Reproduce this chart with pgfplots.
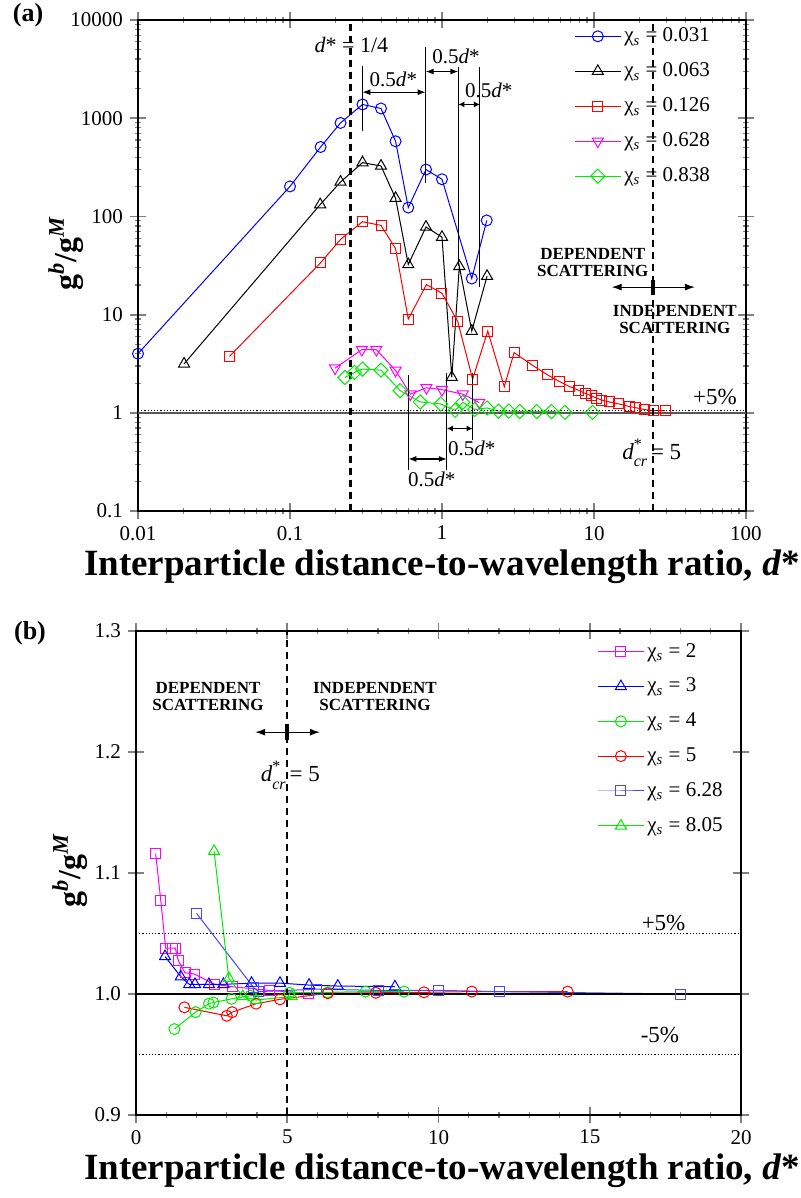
\documentclass[border=0pt]{standalone}
\usepackage{fontspec}
\setmainfont{Liberation Serif}
\usepackage{pgfplots}
\pgfplotsset{compat=1.18}
\usetikzlibrary{arrows.meta}
\definecolor{cblue}{RGB}{0,0,255}
\definecolor{cred}{RGB}{255,0,0}
\definecolor{cmag}{RGB}{255,0,255}
\definecolor{cgreen}{RGB}{0,235,0}
\definecolor{clblue}{RGB}{70,70,255}
\pgfplotsset{
  common/.style={
    scale only axis, clip=false,
    /pgf/number format/assume math mode=true,
    /pgf/number format/1000 sep={},
    tick label style={font=\fontsize{10.5}{12}\selectfont},
    tick align=center, major tick length=8pt, minor tick length=3pt,
    axis line style={line width=0.9pt},
    major tick style={line width=0.9pt},
    minor tick style={line width=0.6pt},
    legend cell align=left,
    legend image code/.code={\draw[mark repeat=2,mark phase=2,#1] plot coordinates {(0pt,0pt) (11.5pt,0pt) (23pt,0pt)};},
    legend style={draw=none, fill=none, inner sep=0pt, row sep=6.0pt,
      font=\fontsize{10.5}{12}\selectfont, nodes={inner sep=1.5pt}},
  },
  ser/.style={line width=0.5pt, mark options={solid, line width=0.5pt}},
}
\newcommand{\hd}{0.5\textit{d}*}
\newcommand{\chis}{χ\textsubscript{\textit{s}}}
\newcommand{\dcr}{\textit{d}\rlap{\raisebox{0.9ex}{\fontsize{8}{8}\selectfont *}}\raisebox{-0.75ex}{\fontsize{8}{8}\selectfont\textit{cr}}\,= 5}
\begin{document}
\begin{tikzpicture}
\path[use as bounding box] (0,0) rectangle (400.5pt,-599pt);
% ---------------- (a) ----------------
\begin{axis}[common,
  at={(69pt,-255.5pt)}, anchor=south west, width=304pt, height=245.5pt,
  xmode=log, ymode=log, xmin=0.01, xmax=100, ymin=0.1, ymax=10000,
  log ticks with fixed point,
  legend style={at={(rel axis cs:0.717,0.991)}, anchor=north west},
]
\addplot[ser, cblue, mark=o, mark size=2.75pt] coordinates {
(0.01,4) (0.1,202) (0.159,509) (0.215,895) (0.3,1380) (0.397,1256) (0.495,582) (0.6,123) (0.785,300) (1.0,239) (1.57,23.3) (1.97,91)};
\addlegendentry{\chis{} = 0.031}
\addplot[ser, black, mark=triangle, mark size=3.2pt] coordinates {
(0.0201,3.15) (0.158,132) (0.215,224) (0.3,353) (0.397,326) (0.495,153) (0.6,32.4) (0.785,78) (1.0,61.5) (1.16,2.3) (1.3,31) (1.57,6.8) (1.98,24.6)};
\addlegendentry{\chis{} = 0.063}
\addplot[ser, cred, mark=square, mark size=2.5pt] coordinates {
(0.04,3.76) (0.159,33.7) (0.215,58.3) (0.3,88.3) (0.397,81) (0.495,47) (0.6,9.0) (0.79,20.2) (1.0,16.5) (1.27,8.5) (1.59,2.2) (2.0,6.8) (2.57,1.84) (2.98,4.1) (3.95,3.04) (4.93,2.44) (5.9,2.09) (6.9,1.85) (7.9,1.70) (8.8,1.57) (9.6,1.49) (10.4,1.41) (11.2,1.35) (12.6,1.29) (14.6,1.23) (17,1.16) (18.7,1.13) (21.4,1.08) (24.5,1.05) (29.4,1.05)};
\addlegendentry{\chis{} = 0.126}
\addplot[ser, cmag, mark=triangle, mark size=3.2pt, mark options={rotate=180}] coordinates {
(0.198,2.85) (0.297,4.4) (0.37,4.4) (0.495,2.7) (0.62,1.55) (0.79,1.8) (1.0,1.72) (1.37,1.55) (1.76,1.27)};
\addlegendentry{\chis{} = 0.628}
\addplot[ser, cgreen, mark=square, mark size=2.5pt, mark options={rotate=45}] coordinates {
(0.23,2.29) (0.266,2.58) (0.3,2.79) (0.397,2.72) (0.53,1.68) (0.72,1.29) (0.98,1.23) (1.22,1.06) (1.37,1.28) (1.64,1.08) (1.98,1.12) (2.35,1.04) (2.75,1.04) (3.25,1.03) (4.2,1.03) (5.25,1.03) (6.44,1.01) (9.78,1.01)};
\addlegendentry{\chis{} = 0.838}
% reference lines
\draw[gray!70!black, line width=1pt] (axis cs:0.01,1) -- (axis cs:100,1);
\draw[densely dotted, line width=0.6pt] (axis cs:0.01,1.055) -- (axis cs:100,1.055);
\draw[dashed, line width=1.1pt, dash pattern=on 3.5pt off 2.5pt] (rel axis cs:0.3495,0) -- (rel axis cs:0.3495,1);
\draw[dashed, line width=1.1pt, dash pattern=on 3.5pt off 2.5pt] (rel axis cs:0.847,0) -- (rel axis cs:0.847,1);
% annotations
\node[font=\fontsize{11}{12}\selectfont] at (rel axis cs:0.351,0.949) {\textit{d}* = 1/4};
\draw[line width=0.5pt] (rel axis cs:0.369,0.907) -- (rel axis cs:0.369,0.773);
\draw[line width=0.5pt] (rel axis cs:0.473,0.944) -- (rel axis cs:0.473,0.668);
\draw[line width=0.5pt] (rel axis cs:0.527,0.905) -- (rel axis cs:0.527,0.499);
\draw[line width=0.5pt] (rel axis cs:0.5625,0.905) -- (rel axis cs:0.5625,0.456);
\draw[{Latex[length=4pt,width=3pt]}-{Latex[length=4pt,width=3pt]}, line width=0.6pt] (rel axis cs:0.369,0.853) -- (rel axis cs:0.473,0.853);
\draw[{Latex[length=4pt,width=3pt]}-{Latex[length=4pt,width=3pt]}, line width=0.6pt] (rel axis cs:0.473,0.895) -- (rel axis cs:0.527,0.895);
\draw[{Latex[length=3pt,width=3pt]}-{Latex[length=3pt,width=3pt]}, line width=0.6pt] (rel axis cs:0.527,0.828) -- (rel axis cs:0.5625,0.828);
\node[font=\fontsize{10.5}{12}\selectfont] at (rel axis cs:0.42,0.88) {\hd};
\node[font=\fontsize{10.5}{12}\selectfont] at (rel axis cs:0.523,0.925) {\hd};
\node[font=\fontsize{10.5}{12}\selectfont] at (rel axis cs:0.577,0.857) {\hd};
\draw[line width=0.5pt] (rel axis cs:0.4446,0.277) -- (rel axis cs:0.4446,0.0835);
\draw[line width=0.5pt] (rel axis cs:0.508,0.281) -- (rel axis cs:0.508,0.0835);
\draw[line width=0.5pt] (rel axis cs:0.5505,0.281) -- (rel axis cs:0.5505,0.1446);
\draw[{Latex[length=4pt,width=3pt]}-{Latex[length=4pt,width=3pt]}, line width=0.6pt] (rel axis cs:0.4446,0.106) -- (rel axis cs:0.508,0.106);
\draw[{Latex[length=3pt,width=3pt]}-{Latex[length=3pt,width=3pt]}, line width=0.6pt] (rel axis cs:0.508,0.168) -- (rel axis cs:0.5505,0.168);
\node[font=\fontsize{10.5}{12}\selectfont] at (rel axis cs:0.483,0.065) {\hd};
\node[font=\fontsize{10.5}{12}\selectfont] at (rel axis cs:0.549,0.128) {\hd};
\node[font=\fontsize{8.5}{8.5}\selectfont\bfseries, align=center, inner sep=0pt] at (rel axis cs:0.748,0.507) {DEPENDENT\\SCATTERING};
\node[font=\fontsize{8.5}{8.5}\selectfont\bfseries, align=center, inner sep=0pt] at (rel axis cs:0.883,0.391) {INDEPENDENT\\SCATTERING};
\draw[{Latex[length=5pt,width=3.5pt]}-{Latex[length=5pt,width=3.5pt]}, line width=0.6pt] (rel axis cs:0.779,0.456) -- (rel axis cs:0.916,0.456);
\draw[line width=2pt] (rel axis cs:0.847,0.47) -- (rel axis cs:0.847,0.44);
\node[font=\fontsize{11.5}{12}\selectfont] at (rel axis cs:0.949,0.233) {+5\%};
\node[font=\fontsize{11.5}{12}\selectfont] at (rel axis cs:0.845,0.118) {\dcr};
\end{axis}
% ---------------- (b) ----------------
\begin{axis}[common,
  at={(68pt,-557.5pt)}, anchor=south west, width=302.5pt, height=242pt,
  xmin=0, xmax=20, ymin=0.9, ymax=1.3,
  xtick={0,5,10,15,20}, minor x tick num=4,
  ytick={0.9,1.0,1.1,1.2,1.3},
  yticklabel style={/pgf/number format/.cd, fixed, fixed zerofill, precision=1},
  legend style={at={(rel axis cs:0.762,0.982)}, anchor=north west},
]
\addplot[ser, cmag, mark=square, mark size=2.5pt] coordinates {
(0.65,1.116) (0.82,1.077) (0.98,1.038) (1.2,1.038) (1.3,1.038) (1.4,1.0275) (1.62,1.0176) (1.93,1.0165) (2.6,1.008) (3.2,1.006) (4.4,1.003) (5.7,1.0006)};
\addlegendentry{\chis{} = 2}
\addplot[ser, cblue, mark=triangle, mark size=3.2pt] coordinates {
(0.96,1.031) (1.48,1.0143) (1.76,1.008) (1.95,1.008) (2.41,1.008) (2.89,1.008) (3.82,1.009) (4.76,1.009) (5.72,1.0074) (6.67,1.0066) (8.56,1.006)};
\addlegendentry{\chis{} = 3}
\addplot[ser, cgreen, mark=o, mark size=2.75pt] coordinates {
(1.27,0.971) (1.97,0.985) (2.41,0.992) (2.56,0.993) (3.16,0.996) (3.79,0.9986) (5.07,1.001) (6.34,1.0014) (7.59,1.002) (8.86,1.002)};
\addlegendentry{\chis{} = 4}
\addplot[ser, cred, mark=o, mark size=2.75pt] coordinates {
(1.6,0.989) (3.0,0.982) (3.18,0.985) (3.97,0.992) (4.76,0.9956) (6.34,1.0006) (7.93,1.001) (9.52,1.0014) (11.1,1.002) (14.27,1.002)};
\addlegendentry{\chis{} = 5}
\addplot[ser, clblue, mark=square, mark size=2.5pt] coordinates {
(2.0,1.0667) (3.9,1.005) (4.05,1.002) (5.97,1.004) (8.0,1.003) (10.0,1.003) (12.0,1.002) (18.0,1.0)};
\addlegendentry{\chis{} = 6.28}
\addplot[ser, cgreen, mark=triangle, mark size=3.2pt] coordinates {
(2.58,1.118) (3.07,1.013) (3.53,0.998) (3.97,0.995) (5.15,0.998)};
\addlegendentry{\chis{} = 8.05}
\draw[line width=0.6pt] (axis cs:0,1.0) -- (axis cs:20,1.0);
\draw[densely dotted, line width=0.6pt] (axis cs:0,1.05) -- (axis cs:20,1.05);
\draw[densely dotted, line width=0.6pt] (axis cs:0,0.95) -- (axis cs:20,0.95);
\draw[dashed, line width=1.1pt, dash pattern=on 3.5pt off 2.5pt] (axis cs:5,0.9) -- (axis cs:5,1.3);
\node[font=\fontsize{8.5}{8.5}\selectfont\bfseries, align=center, inner sep=0pt] at (rel axis cs:0.119,0.864) {DEPENDENT\\SCATTERING};
\node[font=\fontsize{8.5}{8.5}\selectfont\bfseries, align=center, inner sep=0pt] at (rel axis cs:0.395,0.864) {INDEPENDENT\\SCATTERING};
\draw[{Latex[length=5pt,width=3.5pt]}-{Latex[length=5pt,width=3.5pt]}, line width=0.6pt] (rel axis cs:0.197,0.791) -- (rel axis cs:0.304,0.791);
\draw[line width=2pt] (rel axis cs:0.25,0.807) -- (rel axis cs:0.25,0.775);
\node[font=\fontsize{11.5}{12}\selectfont] at (rel axis cs:0.255,0.702) {\dcr};
\node[font=\fontsize{11.5}{12}\selectfont] at (rel axis cs:0.872,0.396) {+5\%};
\node[font=\fontsize{11.5}{12}\selectfont] at (rel axis cs:0.866,0.165) {-5\%};
\end{axis}
% labels
\node[font=\fontsize{13}{14}\selectfont\bfseries] at (14pt,-7.5pt) {(a)};
\node[font=\fontsize{13}{14}\selectfont\bfseries] at (15pt,-316.5pt) {(b)};
\node[font=\fontsize{18.5}{20}\selectfont\bfseries] at (221pt,-283.5pt) {Interparticle distance-to-wavelength ratio, \textit{d}*};
\node[font=\fontsize{18.5}{20}\selectfont\bfseries] at (221pt,-585.5pt) {Interparticle distance-to-wavelength ratio, \textit{d}*};
\node[font=\fontsize{16}{18}\selectfont\bfseries, rotate=90] at (33pt,-126.5pt) {g\textsuperscript{\textit{b}}/g\textsuperscript{\textit{M}}};
\node[font=\fontsize{16}{18}\selectfont\bfseries, rotate=90] at (35pt,-435pt) {g\textsuperscript{\textit{b}}/g\textsuperscript{\textit{M}}};
\end{tikzpicture}
\end{document}
